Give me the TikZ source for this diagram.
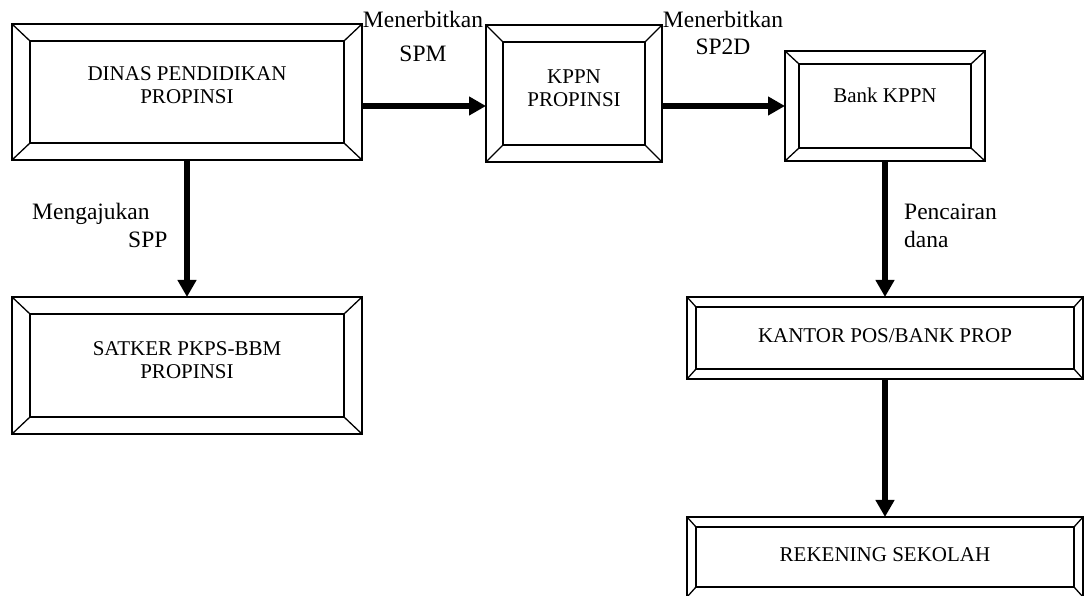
\documentclass[tikz,border=0pt]{standalone}
\usepackage{fontspec}
\setmainfont{Liberation Serif}
\usetikzlibrary{arrows.meta, positioning, calc}

\begin{document}
\begin{tikzpicture}[
    x=1pt, y=1pt,
    boxline/.style={line width=1.3pt, line join=miter},
    bevelbox/.style={boxline, draw, rectangle, inner sep=0pt, outer sep=0pt},
    boxtext/.style={align=center, inner sep=0pt, font=\fontsize{21}{23}\selectfont},
    steplabel/.style={inner sep=0pt},
    flow/.style={line width=5.5pt, -{Triangle[length=17pt, width=18pt]}},
]

\useasboundingbox (0,0) rectangle (1084,596);

% ================================================================
% Bevelled boxes: outer frame, inner frame, four corner cuts.
%   name / centre x / centre y / width / height / inset x / inset y / text shift / text
% ================================================================

\foreach \n/\cx/\cy/\w/\h/\ix/\iy/\dy/\t in {%
    dinas/187/504/350/136/18/17/6.5/{DINAS PENDIDIKAN\\PROPINSI},
    kppn/574/502.5/176/137/17/17/5.5/{KPPN\\PROPINSI},
    bank/885/490/200/110/14/13/10.5/{Bank KPPN},
    satker/187/230.5/350/137/18/17/5/{SATKER PKPS-BBM\\PROPINSI},
    kantor/885/258/396/82/9/10/2/{KANTOR POS/BANK PROP},
    rekening/885/39/396/80/9/10/2/{REKENING SEKOLAH}%
} {
    \node[bevelbox, minimum width=\w pt, minimum height=\h pt] (\n) at (\cx, \cy) {};

    \draw[boxline] ($(\n.north west)+(\ix,-\iy)$) rectangle ($(\n.south east)+(-\ix,\iy)$);
    \draw[boxline] (\n.north west) -- ++(\ix,-\iy);
    \draw[boxline] (\n.north east) -- ++(-\ix,-\iy);
    \draw[boxline] (\n.south west) -- ++(\ix,\iy);
    \draw[boxline] (\n.south east) -- ++(-\ix,\iy);

    \node[boxtext] (\n-txt) at ($(\n.center)+(0,\dy)$) {\t};
}

% ---------------------------------------------------------------- arrows
\draw[flow] (dinas.east |- bank.west) -- (kppn.west |- bank.west);
\draw[flow] (kppn.east |- bank.west) -- (bank.west);
\draw[flow] (dinas.south) -- (satker.north);
\draw[flow] (bank.south) -- (kantor.north);
\draw[flow] (kantor.south) -- (rekening.north);

% ---------------------------------------------------------------- labels
% (base anchor sits on the last line)
\node[steplabel, align=center, anchor=base, font=\fontsize{23.5}{34}\selectfont]
    (spm) at (423, 534) {Menerbitkan\\SPM};
\node[steplabel, align=center, anchor=base, font=\fontsize{23.5}{27}\selectfont]
    (sp2d) at (723, 541) {Menerbitkan\\SP2D};
\node[steplabel, align=left, anchor=base west, font=\fontsize{23.5}{28}\selectfont]
    (spp) at (32, 348) {Mengajukan\\\hspace*{96pt}SPP};
\node[steplabel, align=left, anchor=base west, font=\fontsize{23.5}{28}\selectfont]
    (dana) at (904, 348) {Pencairan\\dana};

\end{tikzpicture}
\end{document}
